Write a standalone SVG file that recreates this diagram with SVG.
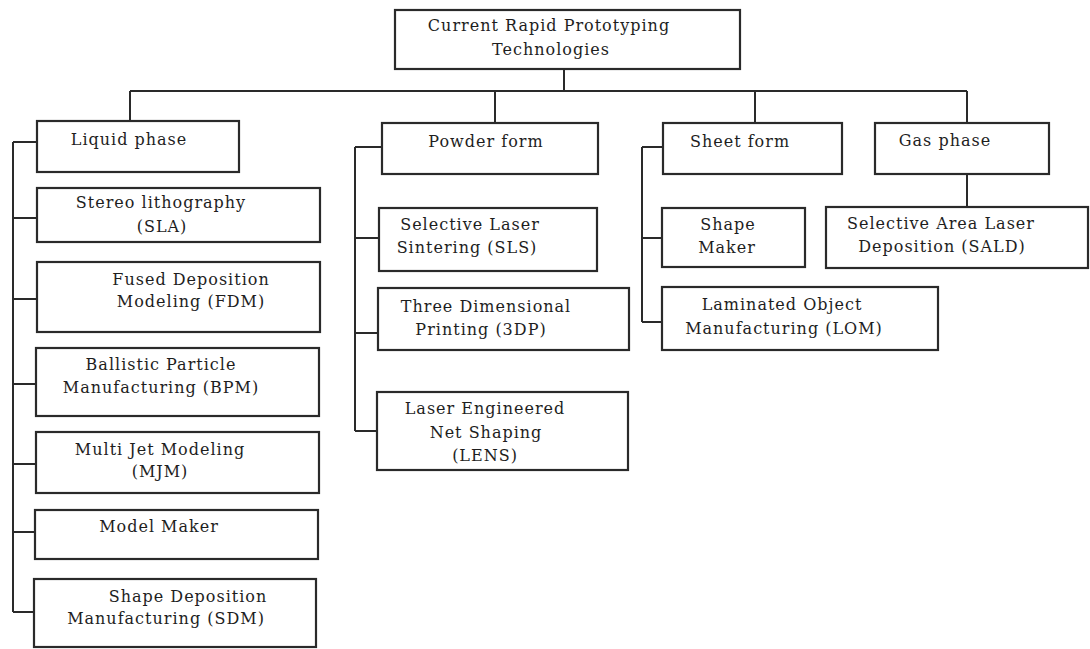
<svg xmlns="http://www.w3.org/2000/svg" width="1090" height="649" viewBox="0 0 1090 649">
  <style>
    .box { fill: #ffffff; stroke: #2a2a2a; stroke-width: 2.2; }
    .wire { fill: none; stroke: #2a2a2a; stroke-width: 2; }
    text { font-family: "DejaVu Serif", "Liberation Serif", serif; font-size: 16px; letter-spacing: 1px; fill: #1e1e1e; text-anchor: middle; }
  </style>
  <rect x="0" y="0" width="1090" height="649" fill="#ffffff"/>

  <g id="connectors">
    <path class="wire" d="M564 69 V91 M130 91 H967 M130 91 V121 M495 91 V123 M755 91 V123 M967 91 V123 M967 174 V207"/>
    <path class="wire" d="M13 142 V612 M13 142 H37 M13 218 H37 M13 299 H37 M13 384 H36 M13 464 H36 M13 532 H35 M13 612 H34"/>
    <path class="wire" d="M355 147 V431 M355 147 H382 M355 238 H379 M355 333 H378 M355 431 H377"/>
    <path class="wire" d="M642 147 V322 M642 147 H663 M642 238 H662 M642 322 H662"/>
  </g>

  <g id="root">
    <rect class="box" x="395" y="10" width="345" height="59"/>
    <text x="549" y="31">Current Rapid Prototyping</text>
    <text x="551" y="55">Technologies</text>
  </g>

  <g id="liquid">
    <rect class="box" x="37" y="121" width="202" height="51"/>
    <text x="129" y="145">Liquid phase</text>
  </g>
  <g id="powder">
    <rect class="box" x="382" y="123" width="216" height="51"/>
    <text x="486" y="147">Powder form</text>
  </g>
  <g id="sheet">
    <rect class="box" x="663" y="123" width="179" height="51"/>
    <text x="740" y="147">Sheet form</text>
  </g>
  <g id="gas">
    <rect class="box" x="875" y="123" width="174" height="51"/>
    <text x="945" y="146">Gas phase</text>
  </g>

  <g id="sla">
    <rect class="box" x="37" y="188" width="283" height="54"/>
    <text x="161" y="208">Stereo lithography</text>
    <text x="162" y="232">(SLA)</text>
  </g>
  <g id="fdm">
    <rect class="box" x="37" y="262" width="283" height="70"/>
    <text x="191" y="285">Fused Deposition</text>
    <text x="191" y="307">Modeling (FDM)</text>
  </g>
  <g id="bpm">
    <rect class="box" x="36" y="348" width="283" height="68"/>
    <text x="161" y="370">Ballistic Particle</text>
    <text x="161" y="393">Manufacturing (BPM)</text>
  </g>
  <g id="mjm">
    <rect class="box" x="36" y="432" width="283" height="61"/>
    <text x="160" y="455">Multi Jet Modeling</text>
    <text x="160" y="477">(MJM)</text>
  </g>
  <g id="modelmaker">
    <rect class="box" x="35" y="510" width="283" height="49"/>
    <text x="159" y="532">Model Maker</text>
  </g>
  <g id="sdm">
    <rect class="box" x="34" y="579" width="282" height="68"/>
    <text x="188" y="602">Shape Deposition</text>
    <text x="166" y="624">Manufacturing (SDM)</text>
  </g>

  <g id="sls">
    <rect class="box" x="379" y="208" width="218" height="63"/>
    <text x="470" y="230">Selective Laser</text>
    <text x="467" y="253">Sintering (SLS)</text>
  </g>
  <g id="tdp">
    <rect class="box" x="378" y="288" width="251" height="62"/>
    <text x="486" y="312">Three Dimensional</text>
    <text x="481" y="335">Printing (3DP)</text>
  </g>
  <g id="lens">
    <rect class="box" x="377" y="392" width="251" height="78"/>
    <text x="485" y="414">Laser Engineered</text>
    <text x="486" y="438">Net Shaping</text>
    <text x="485" y="461">(LENS)</text>
  </g>

  <g id="shapemaker">
    <rect class="box" x="662" y="208" width="143" height="59"/>
    <text x="728" y="230">Shape</text>
    <text x="727" y="253">Maker</text>
  </g>
  <g id="lom">
    <rect class="box" x="662" y="287" width="276" height="63"/>
    <text x="782" y="310">Laminated Object</text>
    <text x="784" y="334">Manufacturing (LOM)</text>
  </g>

  <g id="sald">
    <rect class="box" x="826" y="207" width="262" height="61"/>
    <text x="941" y="229">Selective Area Laser</text>
    <text x="942" y="252">Deposition (SALD)</text>
  </g>
</svg>
